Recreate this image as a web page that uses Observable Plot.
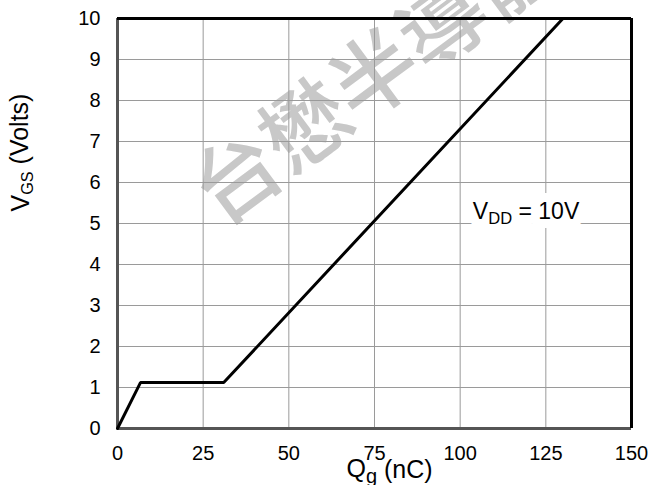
<!DOCTYPE html>
<html><head><meta charset="utf-8">
<script src="https://cdn.jsdelivr.net/npm/d3@7"></script>
<script src="https://cdn.jsdelivr.net/npm/@observablehq/plot@0.6"></script>
<style>body{margin:0;background:#fff;font-family:"Liberation Sans",Arial,sans-serif}</style>
</head><body><div id="chart"></div>
<script>
// Gate charge curve
const qg = [0, 6.7, 31, 130];
const vgs = [0, 1.12, 1.12, 10];
const xTicks = [0, 25, 50, 75, 100, 125, 150];
const yTicks = [0, 1, 2, 3, 4, 5, 6, 7, 8, 9, 10];
const noteText = ["VDD = 10V"];
const noteX = [103.7];
const noteY = [5.3];
const watermarkText = ["台懋半導體"];
const watermarkX = [75.7];
const watermarkY = [8.55];
const xLabel = ["Qg (nC)"];
const xLabelX = [79.4];
const yLabel = ["VGS (Volts)"];
const yLabelY = [6.73];

const curve = qg.map((q, i) => ({q, v: vgs[i]}));

const chart = Plot.plot({
  width: 650, height: 485,
  marginLeft: 117, marginRight: 19, marginTop: 18, marginBottom: 57,
  style: {fontFamily: '"Liberation Sans", Arial, sans-serif', background: "#fff"},
  x: {domain: [0, 150], ticks: xTicks},
  y: {domain: [0, 10], ticks: yTicks},
  marks: [
    Plot.text(watermarkText, {x: watermarkX, y: watermarkY, text: d => d,
      fontSize: 86, fontWeight: 500, fill: "#c8c8c8", rotate: -36.6,
      fontFamily: '"Noto Sans CJK SC", sans-serif'}),
    Plot.gridX(xTicks, {stroke: "#9a9a9a", strokeOpacity: 1, strokeWidth: 1}),
    Plot.gridY(yTicks, {stroke: "#9a9a9a", strokeOpacity: 1, strokeWidth: 1}),
    Plot.text(noteText, {x: noteX, y: noteY, text: d => d, textAnchor: "start", lineAnchor: "middle",
      fontSize: 23, fill: "#fff", stroke: "#fff", strokeWidth: 18, className: "notebg"}),
    Plot.text(noteText, {x: noteX, y: noteY, text: d => d, textAnchor: "start", lineAnchor: "middle",
      fontSize: 23, fill: "#000", className: "note"}),
    Plot.ruleX([0], {stroke: "#555", strokeWidth: 3}),
    Plot.ruleY([0], {stroke: "#555", strokeWidth: 3}),
    Plot.ruleX([150], {stroke: "#000", strokeWidth: 3}),
    Plot.ruleY([10], {stroke: "#000", strokeWidth: 3}),
    Plot.line(curve, {x: "q", y: "v", stroke: "#000", strokeWidth: 3, strokeLinejoin: "miter"}),
    Plot.axisX(xTicks, {tickSize: 0, tickPadding: 17, fontSize: 20, label: null, fill: "#000"}),
    Plot.axisY(yTicks, {tickSize: 0, tickPadding: 17, fontSize: 20, label: null, fill: "#000"}),
    Plot.text(xLabel, {x: xLabelX, frameAnchor: "bottom", dy: 40, lineAnchor: "middle", textAnchor: "middle",
      text: d => d, fontSize: 25, fill: "#000", className: "xlab"}),
    Plot.text(yLabel, {y: yLabelY, frameAnchor: "left", dx: -97, rotate: -90, lineAnchor: "middle", textAnchor: "middle",
      text: d => d, fontSize: 25, fill: "#000", className: "ylab"})
  ]
});
document.getElementById("chart").append(chart);

// subscripts
function subscript(sel, main, sub, rest, size) {
  d3.select(chart).selectAll(sel + " text").each(function() {
    const t = d3.select(this);
    t.text(null);
    t.append("tspan").text(main);
    t.append("tspan").attr("font-size", size).attr("dy", "0.3em").text(sub);
    t.append("tspan").attr("dy", "-0.2em").text(rest);
  });
}
subscript(".notebg", "V", "DD", " = 10V", "0.72em");
subscript(".note", "V", "DD", " = 10V", "0.72em");
subscript(".xlab", "Q", "g", " (nC)", "0.8em");
subscript(".ylab", "V", "GS", " (Volts)", "0.65em");
</script></body></html>
